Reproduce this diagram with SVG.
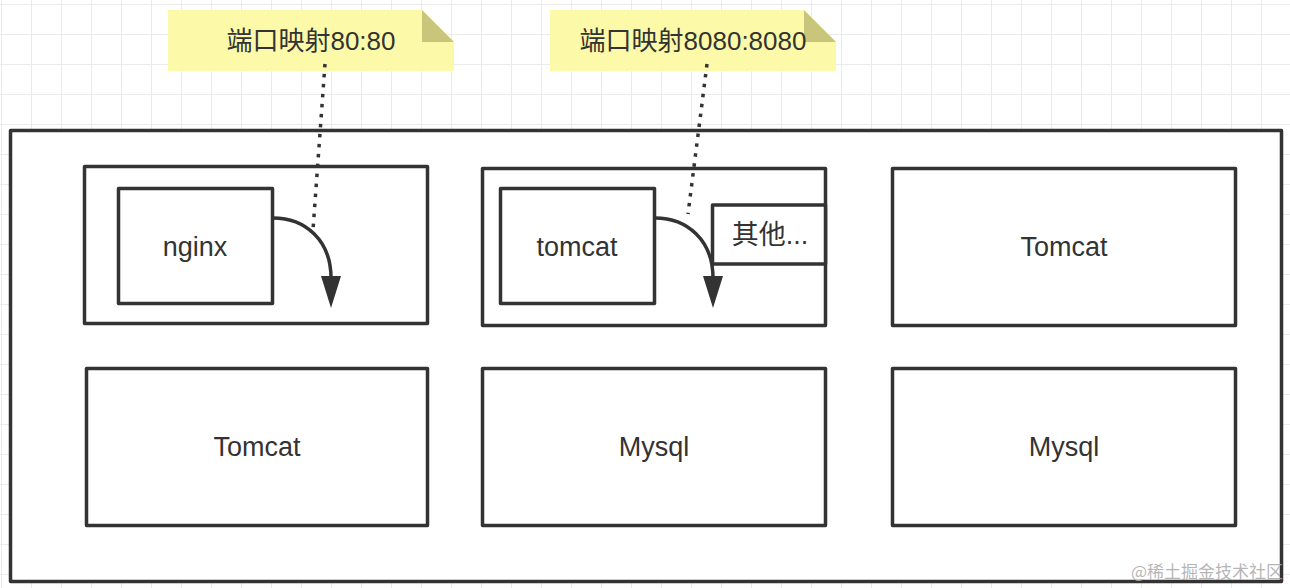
<svg xmlns="http://www.w3.org/2000/svg" width="1290" height="588" viewBox="0 0 1290 588">
<defs>
<pattern id="grid" x="1" y="4" width="30" height="30" patternUnits="userSpaceOnUse">
<path d="M0 0 H30 M0 0 V30" fill="none" stroke="#ebebeb" stroke-width="2"/>
</pattern>
<marker id="arr" viewBox="0 0 32 20" refX="2" refY="10" markerWidth="32" markerHeight="20" markerUnits="userSpaceOnUse" orient="auto">
<path d="M0 0 L32 10 L0 20 Z" fill="#333"/>
</marker>
<style>
.box{fill:#fff;stroke:#333;stroke-width:3.5;stroke-linejoin:round}
.lbl{font-family:"Liberation Sans","Noto Sans CJK SC",sans-serif;font-size:27px;fill:#333;text-anchor:middle}
.note{fill:#fcf9a8}
.fold{fill:#c9c67c}
.ntxt{font-family:"Liberation Sans","Noto Sans CJK SC",sans-serif;font-size:26px;fill:#333;text-anchor:middle}
.dot{fill:none;stroke:#333;stroke-width:3.5;stroke-dasharray:3.5 6.5}
.curve{fill:none;stroke:#333;stroke-width:3.5}
</style>
</defs>
<rect width="1290" height="588" fill="#fff"/>
<rect width="1290" height="588" fill="url(#grid)"/>
<g id="outer"><rect class="box" x="10.5" y="130.5" width="1271" height="451"/></g>
<g id="nginx-container"><rect class="box" x="84.5" y="166.5" width="343" height="157"/></g>
<g id="nginx"><rect class="box" x="118.5" y="188.5" width="154" height="115"/><text class="lbl" x="195" y="256">nginx</text></g>
<g id="tomcat-container"><rect class="box" x="482.5" y="168.5" width="343" height="157"/></g>
<g id="tomcat"><rect class="box" x="500.5" y="188.5" width="154" height="115"/><text class="lbl" x="577" y="256">tomcat</text></g>
<g id="other"><rect class="box" x="712.5" y="205" width="113" height="59"/><text class="lbl" x="770" y="244">其他...</text></g>
<g id="tomcat-tr"><rect class="box" x="892.5" y="168.5" width="343" height="157"/><text class="lbl" x="1064" y="256">Tomcat</text></g>
<g id="tomcat-bl"><rect class="box" x="86.5" y="368.5" width="341" height="157"/><text class="lbl" x="257" y="456">Tomcat</text></g>
<g id="mysql-bm"><rect class="box" x="482.5" y="368.5" width="343" height="157"/><text class="lbl" x="654" y="456">Mysql</text></g>
<g id="mysql-br"><rect class="box" x="892.5" y="368.5" width="343" height="157"/><text class="lbl" x="1064" y="456">Mysql</text></g>
<g id="note1">
<path class="note" d="M168 10 H422 L454 42 V71 H168 Z"/>
<path class="fold" d="M422 10 V42 H454 Z"/>
<text class="ntxt" x="311" y="50">端口映射80:80</text>
</g>
<g id="note2">
<path class="note" d="M550 10 H804 L836 42 V71 H550 Z"/>
<path class="fold" d="M804 10 V42 H836 Z"/>
<text class="ntxt" x="693" y="50">端口映射8080:8080</text>
</g>
<g id="connectors">
<path class="dot" d="M325 64 L313 230"/>
<path class="dot" d="M707 64 L688 214"/>
<path class="curve" marker-end="url(#arr)" d="M273 218 C305 218 331 240 331 278"/>
<path class="curve" marker-end="url(#arr)" d="M655 218 C687 218 713 240 713 278"/>
</g>
<text x="1283" y="578" text-anchor="end" font-family="'Noto Sans CJK SC',sans-serif" font-size="17" fill="#a8a8a8" fill-opacity="0.85">@稀土掘金技术社区</text>
</svg>
